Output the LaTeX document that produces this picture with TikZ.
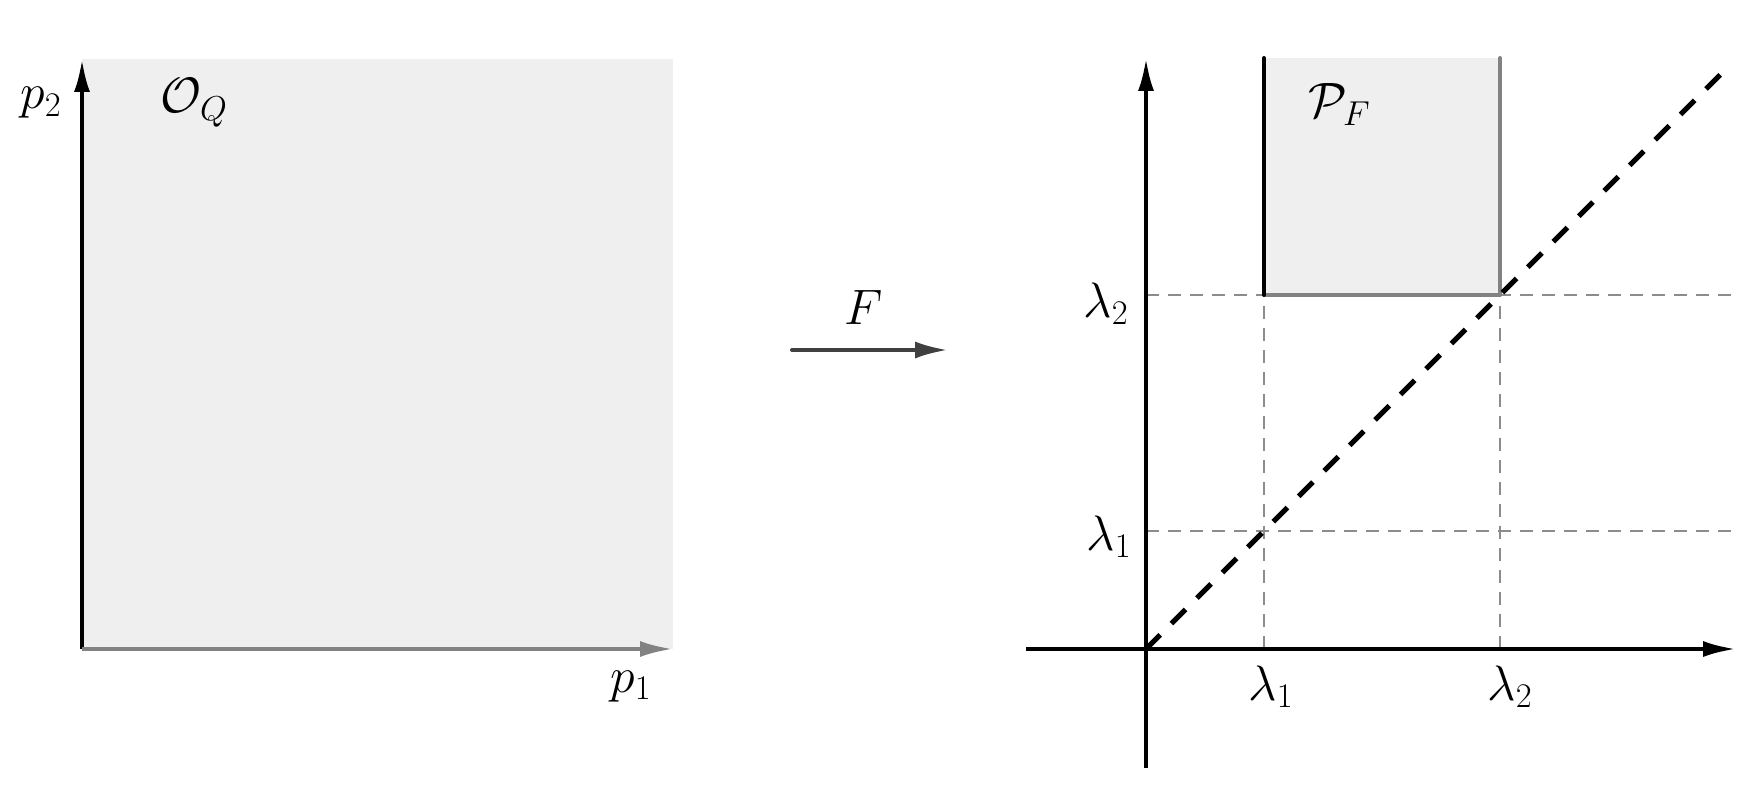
\documentclass[tikz,border=0pt]{standalone}
\usetikzlibrary{arrows.meta}
\definecolor{boxfill}{HTML}{EFEFEF}
\definecolor{axgray}{HTML}{828282}
\definecolor{gridgray}{HTML}{8C8C8C}
\definecolor{arrgray}{HTML}{404040}
\begin{document}
\begin{tikzpicture}[x=0.5pt,y=-0.5pt,
  tip/.style={-{Latex[length=16.5pt,width=8pt]}},
  axblack/.style={line width=2pt,black},
  axgrey/.style={line width=2pt,axgray},
  gridline/.style={line width=1pt,gridgray,dash pattern=on 6.5pt off 4.5pt},
  diagline/.style={line width=2.6pt,black,dash pattern=on 10pt off 8pt},
  maparrow/.style={line width=2pt,arrgray,line cap=round},
  lbl/.style={inner sep=0pt,font=\fontsize{25}{30}\selectfont}]
\useasboundingbox (0,0) rectangle (1759,791);
% ---------- left panel ----------
\coordinate (LO) at (82,649);
\coordinate (LY) at (82,59);
\coordinate (LX) at (673,649);
\coordinate (LT) at (673,59);
\fill[boxfill] (LO) rectangle (LT);
\draw[axblack,tip] (LO) -- (LY);
\draw[axgrey,tip] (LO) -- (LX);
\node[lbl,anchor=base east] (p2) at (62,109) {$p_2$};
\node[lbl,anchor=base west] (OQ) at (160,113) {$\mathcal{O}_Q$};
\node[lbl,anchor=base west] (p1) at (610,692) {$p_1$};
% ---------- map arrow ----------
\coordinate (FA) at (792,350);
\coordinate (FB) at (948,350);
\draw[maparrow,-{Latex[length=16.5pt,width=8.5pt]}] (FA) -- (FB);
\node[lbl,anchor=base] (F) at (864,324) {$F$};
% ---------- right panel ----------
\coordinate (O) at (1146,649);
\coordinate (a1x) at (1264,649);
\coordinate (a2x) at (1500,649);
\coordinate (a1y) at (1146,531);
\coordinate (a2y) at (1146,295);
\coordinate (c11) at (1264,531);
\coordinate (c12) at (1264,295);
\coordinate (c22) at (1500,295);
\coordinate (h1e) at (1737,531);
\coordinate (h2e) at (1737,295);
\coordinate (bTL) at (1264,58);
\coordinate (bTR) at (1500,58);
\coordinate (Dend) at (1727,68);
\coordinate (Xs) at (1026,649);
\coordinate (Xe) at (1736,649);
\coordinate (Ys) at (1146,768);
\coordinate (Ye) at (1146,58);
\fill[boxfill] (c12) rectangle (bTR);
\draw[gridline] (a1y) -- (h1e);
\draw[gridline] (a2y) -- (h2e);
\draw[gridline] (a1x) -- (c12);
\draw[gridline] (a2x) -- (c22);
\draw[axgrey] (c12) -- (c22);
\draw[axgrey,line cap=round] (c22) -- (bTR);
\draw[axblack,line cap=round] (c12) -- (bTL);
\draw[diagline] (O) -- (Dend);
\draw[axblack,tip] (Xs) -- (Xe);
\draw[axblack,tip] (Ys) -- (Ye);
\node[lbl,anchor=base east] (l2y) at (1129,317) {$\lambda_2$};
\node[lbl,anchor=base east] (l1y) at (1132,550) {$\lambda_1$};
\node[lbl,anchor=base west] (l1x) at (1248,700) {$\lambda_1$};
\node[lbl,anchor=base west] (l2x) at (1487,700) {$\lambda_2$};
\node[lbl,anchor=base west] (PF) at (1308,118) {$\mathcal{P}_F$};
\end{tikzpicture}
\end{document}
